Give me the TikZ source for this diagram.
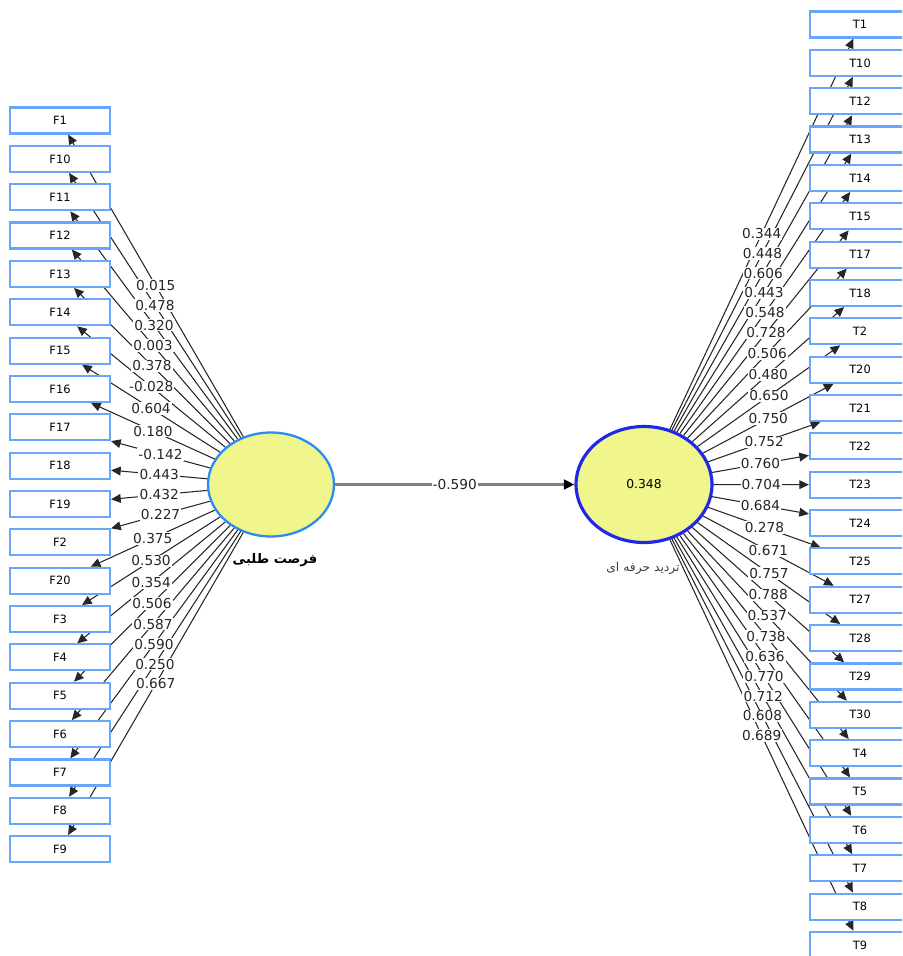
\documentclass[tikz,border=0pt]{standalone}
\usepackage{fontspec}
\setmainfont{DejaVu Sans}
\newfontfamily\farsi[Script=Arabic]{DejaVu Sans}
\TeXXeTstate=1
\usetikzlibrary{shapes.geometric,arrows.meta,positioning}
\pgfdeclarelayer{fondo}
\pgfsetlayers{fondo,main}
\definecolor{cajaazul}{RGB}{105,165,250}
\definecolor{amarillo}{RGB}{240,246,140}
\definecolor{azulclaro}{RGB}{40,140,240}
\definecolor{azuloscuro}{RGB}{30,40,230}
\tikzset{
	indicador/.style = {
		draw=cajaazul, 
		fill=white, 
		rectangle, 
		line width=1.2pt, 
		minimum width=2cm, 
		minimum height=0.52cm, 
		inner sep=0pt,
		font=\fontsize{6.5}{8}\selectfont
	},
	latente/.style = {
		ellipse, 
		fill=amarillo, 
		line width=1.3pt, 
		inner sep=0pt,
		font=\fontsize{7}{8}\selectfont
	},
	flecha/.style = {
		-{Triangle[length=5.5pt, width=5pt]}, 
		line width=0.6pt, 
		black!85
	},
	camino/.style = {
		-{Triangle[length=6pt, width=5.5pt, color=black]}, 
		line width=1.5pt, 
		gray
	},
	valor/.style = {
		fill=white, 
		inner sep=0.6pt, 
		text=black!85,
		font=\fontsize{7.8}{9}\selectfont
	}
}
\begin{document}
\begin{tikzpicture}[x=0.02cm, y=-0.02cm]
	
	\useasboundingbox (0,0) rectangle (902,956);
	\clip (0,0) rectangle (902,956);
	
	% --- Variables latentes ---
	\node [latente, draw=azulclaro, minimum width=2.52cm, minimum height=2.08cm] (fs) at (271,484.5) {};
	\node [latente, draw=azuloscuro, line width=1.8pt, minimum width=2.72cm, minimum height=2.32cm] (td) at (644,484.5) {0.348};
	
	% Nombres debajo de cada elipse
	\node [font=\farsi\bfseries\fontsize{7.5}{9}\selectfont] (nfs) at (275,560) {\beginR فرصت طلبی\endR};
	\node [font=\farsi\fontsize{7}{9}\selectfont, text=black!75] (ntd) at (643,568) {\beginR تردید حرفه ای\endR};
	
	% Coeficiente de camino entre las dos variables
	\draw [camino] (fs) -- node[valor] {-0.590} (td);
	
	% --- Indicadores de la izquierda (F) ---
	\foreach \nombre/\carga [count=\i from 0] in {F1/0.015, F10/0.478, F11/0.320, F12/0.003, F13/0.378, F14/-0.028, F15/0.604, F16/0.180, F17/-0.142, F18/0.443, F19/0.432, F2/0.227, F20/0.375, F3/0.530, F4/0.354, F5/0.506, F6/0.587, F7/0.590, F8/0.250, F9/0.667}{
		\node [indicador] (\nombre) at (60,120.5+38.35*\i) {\nombre};
		\begin{pgfonlayer}{fondo}
			\draw [flecha] (fs) -- (\nombre);
		\end{pgfonlayer}
		\path (fs) -- node[valor] {\carga} (\nombre);
	}
	
	% --- Indicadores de la derecha (T) ---
	\foreach \nombre/\carga [count=\i from 0] in {T1/0.344, T10/0.448, T12/0.606, T13/0.443, T14/0.548, T15/0.728, T17/0.506, T18/0.480, T2/0.650, T20/0.750, T21/0.752, T22/0.760, T23/0.704, T24/0.684, T25/0.278, T27/0.671, T28/0.757, T29/0.788, T30/0.537, T4/0.738, T5/0.636, T6/0.770, T7/0.712, T8/0.608, T9/0.689}{
		\node [indicador] (\nombre) at (860,24.5+38.35*\i) {\nombre};
		\begin{pgfonlayer}{fondo}
			\draw [flecha] (td) -- (\nombre);
		\end{pgfonlayer}
		\path (td) -- node[valor] {\carga} (\nombre);
	}
	
\end{tikzpicture}
\end{document}
